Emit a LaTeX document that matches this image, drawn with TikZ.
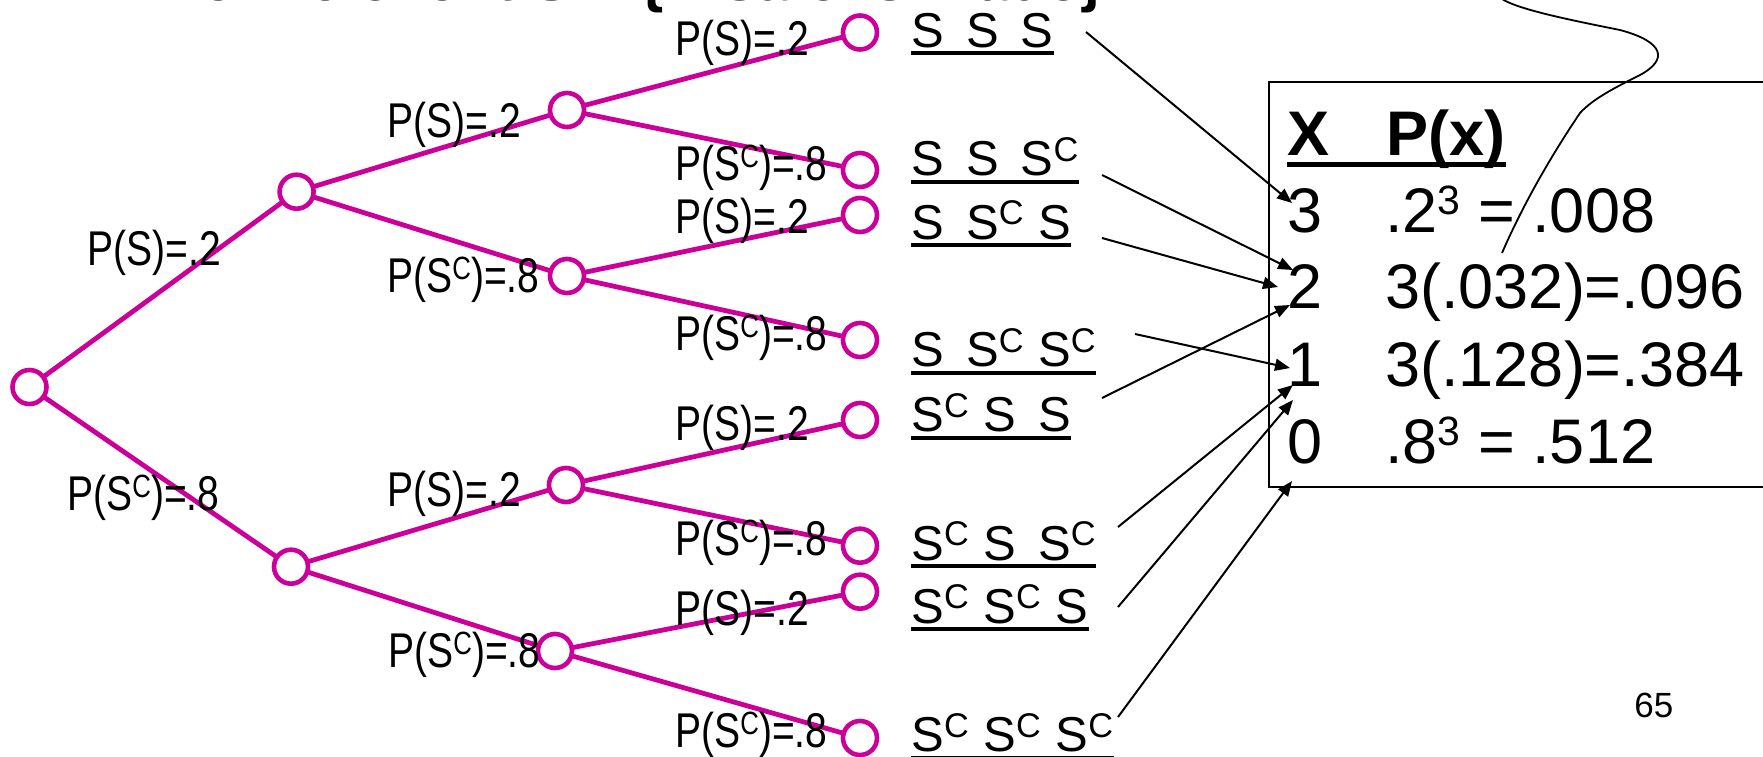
\documentclass[tikz,border=0pt]{standalone}
\usepackage{fontspec}
\setmainfont{Liberation Sans}
\newfontfamily\narrowfont[FakeStretch=0.8]{Liberation Sans}
\usetikzlibrary{arrows.meta}
\definecolor{treemag}{RGB}{204,0,153}
\newcommand\supC{\raisebox{0.3em}{\scalebox{0.7}{C}}}
\newcommand\supL{\raisebox{0.25em}{\scalebox{0.66}{C}}}
\newcommand\supT{\raisebox{0.27em}{\scalebox{0.65}{3}}}
\newcommand\gp{\hspace{0.45em}}
\newcommand\gpc{\hspace{0.3em}}
\begin{document}
\begin{tikzpicture}[x=0.5pt,y=-0.5pt,
  dot/.style={circle,draw=treemag,line width=2.3pt,fill=white,minimum size=17pt,inner sep=0pt,outer sep=0pt},
  edge/.style={draw=treemag,line width=2.4pt},
  lbl/.style={font=\narrowfont\fontsize{24.4}{24.4}\selectfont,anchor=base west,inner sep=0pt},
  outc/.style={font=\fontsize{24.5}{24.5}\selectfont,anchor=base west,inner sep=0pt},
  tab/.style={font=\fontsize{31.5}{31.5}\selectfont,anchor=base west,inner sep=0pt},
  tabb/.style={font=\bfseries\fontsize{31.5}{31.5}\selectfont,anchor=base west,inner sep=0pt},
  conn/.style={-{Triangle[length=7.5pt,width=6pt]},line width=1pt},
  uline/.style={line width=2pt}
]
\useasboundingbox (0,0) rectangle (1763,756);
\clip (0,0) rectangle (1763,756);

% title (cut off at top)
\node[font=\bfseries\fontsize{30}{30}\selectfont,anchor=base west,inner sep=0pt] (title) at (158,0) {Define event S = \{A sale is made\}.};

% tree nodes
\node[dot] (n0) at (29.5,387) {};
\node[dot] (n1) at (296.6,191.7) {};
\node[dot] (n2) at (291,566.7) {};
\node[dot] (n11) at (567,110) {};
\node[dot] (n12) at (567,276) {};
\node[dot] (n21) at (566,485) {};
\node[dot] (n22) at (555,651) {};
\node[dot] (l1) at (860,32.5) {};
\node[dot] (l2) at (860,170) {};
\node[dot] (l3) at (860,215) {};
\node[dot] (l4) at (860,340) {};
\node[dot] (l5) at (860,420) {};
\node[dot] (l6) at (860,545.7) {};
\node[dot] (l7) at (860,591.7) {};
\node[dot] (l8) at (860,738) {};

\draw[edge] (n0) -- (n1);
\draw[edge] (n0) -- (n2);
\draw[edge] (n1) -- (n11);
\draw[edge] (n1) -- (n12);
\draw[edge] (n2) -- (n21);
\draw[edge] (n2) -- (n22);
\draw[edge] (n11) -- (l1);
\draw[edge] (n11) -- (l2);
\draw[edge] (n12) -- (l3);
\draw[edge] (n12) -- (l4);
\draw[edge] (n21) -- (l5);
\draw[edge] (n21) -- (l6);
\draw[edge] (n22) -- (l7);
\draw[edge] (n22) -- (l8);

% branch labels
\node[lbl] (b1) at (87,265) {P(S)=.2};
\node[lbl] (b2) at (67,510) {P(S\supL)=.8};
\node[lbl] (b11) at (387,137) {P(S)=.2};
\node[lbl] (b12) at (387,292) {P(S\supL)=.8};
\node[lbl] (b21) at (387,506) {P(S)=.2};
\node[lbl] (b22) at (388,667) {P(S\supL)=.8};
\node[lbl] (c1) at (675,55) {P(S)=.2};
\node[lbl] (c2) at (675,180) {P(S\supL)=.8};
\node[lbl] (c3) at (675,233) {P(S)=.2};
\node[lbl] (c4) at (675,350) {P(S\supL)=.8};
\node[lbl] (c5) at (675,440) {P(S)=.2};
\node[lbl] (c6) at (675,555) {P(S\supL)=.8};
\node[lbl] (c7) at (675,625) {P(S)=.2};
\node[lbl] (c8) at (675,747) {P(S\supL)=.8};

% outcomes
\node[outc] (o1) at (911,47) {S\gp S\gp S};
\node[outc] (o2) at (911,175.7) {S\gp S\gp S\supC};
\node[outc] (o3) at (911,239) {S\gp S\supC\gpc S};
\node[outc] (o4) at (911,366.7) {S\gp S\supC\gpc S\supC};
\node[outc] (o5) at (911,431.7) {S\supC\gpc S\gp S};
\node[outc] (o6) at (911,560) {S\supC\gpc S\gp S\supC};
\node[outc] (o7) at (911,623.3) {S\supC\gpc S\supC\gpc S};
\node[outc] (o8) at (911,751.7) {S\supC\gpc S\supC\gpc S\supC};
\foreach \o in {o1,o2,o3,o4,o5,o6,o7,o8}
  \draw[uline] ([yshift=-3pt]\o.base west) -- ([yshift=-3pt]\o.base east);

% table box
\draw[line width=1pt] (1269,82) rectangle (1790,487);
\node[tabb] (hx) at (1287,155) {X};
\node[tabb] (hp) at (1386,155) {P(x)};
\draw[line width=2.5pt] ([yshift=-4.5pt]hx.base west) -- ([yshift=-4.5pt]hp.base east);
\node[tab] (x3) at (1287,232) {3};
\node[tab] (p3) at (1385,232) {.2\supT{} = .008};
\node[tab] (x2) at (1287,308) {2};
\node[tab] (p2) at (1385,308) {3(.032)=.096};
\node[tab] (x1) at (1287,386) {1};
\node[tab] (p1) at (1385,386) {3(.128)=.384};
\node[tab] (x0) at (1287,463) {0};
\node[tab] (p0) at (1385,463) {.8\supT{} = .512};

% curve
\draw[line width=0.9pt] (1497,-6) .. controls (1502,6) and (1560,18) .. (1620,30)
  .. controls (1665,42) and (1668,60) .. (1640,75)
  .. controls (1610,90) and (1592,100) .. (1580,113)
  .. controls (1555,150) and (1525,200) .. (1502,253);

% connectors
\coordinate (s1) at (1086,32);
\coordinate (s2) at (1102,175);
\coordinate (s3) at (1102,238);
\coordinate (s4) at (1135,334);
\coordinate (s5) at (1102,398);
\coordinate (s6) at (1118,527);
\coordinate (s7) at (1118,607);
\coordinate (s8) at (1118,717);
\coordinate (e1) at (1292,203);
\coordinate (e2) at (1293,270);
\coordinate (e3) at (1278,287);
\coordinate (e4) at (1290,305);
\coordinate (e5) at (1290,368);
\coordinate (e6) at (1293,385);
\coordinate (e7) at (1293,400);
\coordinate (e8) at (1292,481);
\draw[conn] (s1) -- (e1);
\draw[conn] (s2) -- (e2);
\draw[conn] (s3) -- (e3);
\draw[conn] (s5) -- (e4);
\draw[conn] (s4) -- (e5);
\draw[conn] (s6) -- (e6);
\draw[conn] (s7) -- (e7);
\draw[conn] (s8) -- (e8);

% page number
\node[font=\fontsize{17.5}{17.5}\selectfont,anchor=base west,inner sep=0pt] (pg) at (1634,717) {65};
\end{tikzpicture}
\end{document}
